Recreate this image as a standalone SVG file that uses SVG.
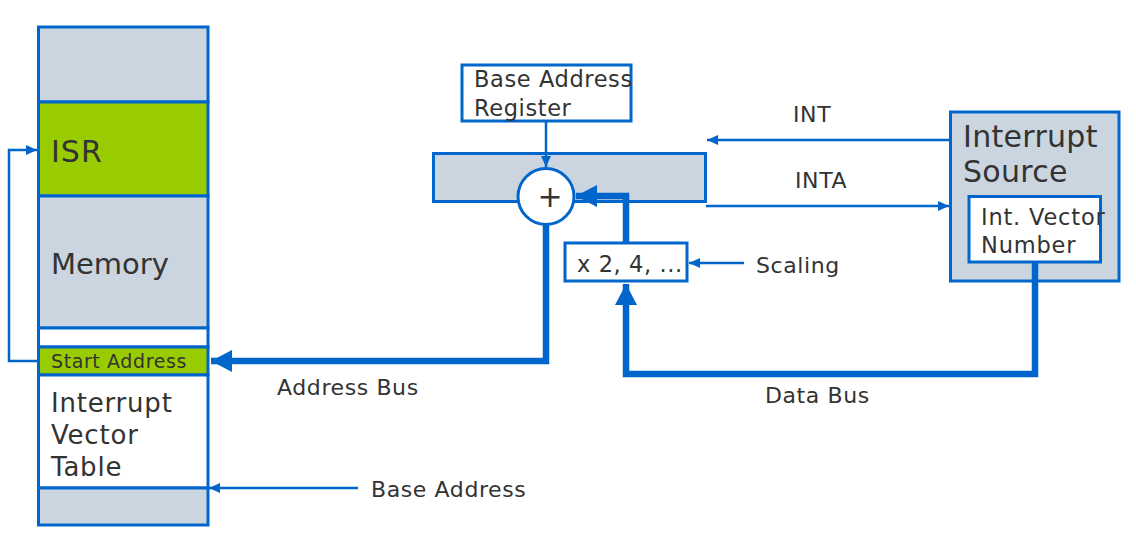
<svg xmlns="http://www.w3.org/2000/svg" width="1136" height="550" viewBox="0 0 1136 550">
<style>
.box{stroke:#0066CC;stroke-width:3}
.gray{fill:#CBD5E0}
.green{fill:#99CC00}
.white{fill:#FFFFFF}
.t{font-family:"DejaVu Sans","Liberation Sans",sans-serif;fill:#333333}
.s{letter-spacing:0.6px}
.thin{fill:none;stroke:#0066CC;stroke-width:2.5}
.thick{fill:none;stroke:#0066CC;stroke-width:6.5}
</style>
<defs>
<marker id="a" markerUnits="userSpaceOnUse" markerWidth="12" markerHeight="10" refX="11" refY="5" orient="auto"><path d="M0,0 L11,5 L0,10 z" fill="#0066CC"/></marker>
<marker id="b" markerUnits="userSpaceOnUse" markerWidth="22" markerHeight="24" refX="21" refY="12" orient="auto"><path d="M0,1 L21,12 L0,23 z" fill="#0066CC"/></marker>
</defs>
<g id="memory">
<rect class="box gray" x="38.5" y="27" width="169.5" height="75"/>
<rect class="box green" x="38.5" y="102" width="169.5" height="94"/>
<rect class="box gray" x="38.5" y="196" width="169.5" height="132"/>
<rect class="box white" x="38.5" y="328" width="169.5" height="19"/>
<rect class="box green" x="38.5" y="347" width="169.5" height="28"/>
<rect class="box white" x="38.5" y="375" width="169.5" height="113"/>
<rect class="box gray" x="38.5" y="488" width="169.5" height="37"/>
<text class="t" x="51" y="162" font-size="30" letter-spacing="1">ISR</text>
<text class="t" x="51" y="274" font-size="29">Memory</text>
<text class="t s" x="51" y="368" font-size="19">Start Address</text>
<text class="t" x="51" y="412" font-size="26" letter-spacing="0.8">Interrupt</text>
<text class="t" x="51" y="444" font-size="26" letter-spacing="0.8">Vector</text>
<text class="t" x="51" y="476" font-size="26" letter-spacing="0.8">Table</text>
</g>
<g id="base-address-register">
<rect class="box white" x="462" y="65" width="169" height="56"/>
<text class="t s" x="474" y="87" font-size="22.5">Base Address</text>
<text class="t s" x="474" y="116" font-size="22.5">Register</text>
</g>
<g id="adder-bar">
<rect class="box gray" x="433.5" y="153.5" width="272" height="48"/>
</g>
<g id="adder">
<circle class="box white" cx="546" cy="196.5" r="28"/>
<text class="t" x="550" y="207" font-size="30" text-anchor="middle">+</text>
</g>
<g id="scaling-box">
<rect class="box white" x="565" y="243" width="122" height="38"/>
<text class="t s" x="577" y="272" font-size="22.5">x 2, 4, ...</text>
</g>
<g id="interrupt-source">
<rect class="box gray" x="950.5" y="112" width="168.5" height="169"/>
<text class="t" x="963" y="147" font-size="30" letter-spacing="0.3">Interrupt</text>
<text class="t" x="963" y="182" font-size="30" letter-spacing="0.3">Source</text>
</g>
<g id="int-vector-number">
<rect class="box white" x="969" y="196.5" width="131.5" height="65.5"/>
<text class="t" x="981" y="225" font-size="22.5" letter-spacing="0.8">Int. Vector</text>
<text class="t" x="981" y="253" font-size="22.5" letter-spacing="0.8">Number</text>
</g>
<g id="connectors">
<path class="thin" d="M38,361 H9 V150 H37" marker-end="url(#a)"/>
<path class="thin" d="M546,121 V167" marker-end="url(#a)"/>
<path class="thin" d="M950,140 H707" marker-end="url(#a)"/>
<path class="thin" d="M706,206 H949" marker-end="url(#a)"/>
<path class="thin" d="M744,263 H689" marker-end="url(#a)"/>
<path class="thin" d="M358,488 H209" marker-end="url(#a)"/>
<path class="thick" d="M546,224 V361 H211" marker-end="url(#b)"/>
<path class="thick" d="M626,243 V196 H576" marker-end="url(#b)"/>
<path class="thick" d="M1035,262 V374 H626 V284" marker-end="url(#b)"/>
</g>
<g id="labels">
<text class="t s" x="793" y="122" font-size="22">INT</text>
<text class="t s" x="795" y="188" font-size="22">INTA</text>
<text class="t s" x="756" y="273" font-size="22">Scaling</text>
<text class="t s" x="277" y="395" font-size="22">Address Bus</text>
<text class="t s" x="765" y="403" font-size="22">Data Bus</text>
<text class="t s" x="371" y="497" font-size="22">Base Address</text>
</g>
</svg>
